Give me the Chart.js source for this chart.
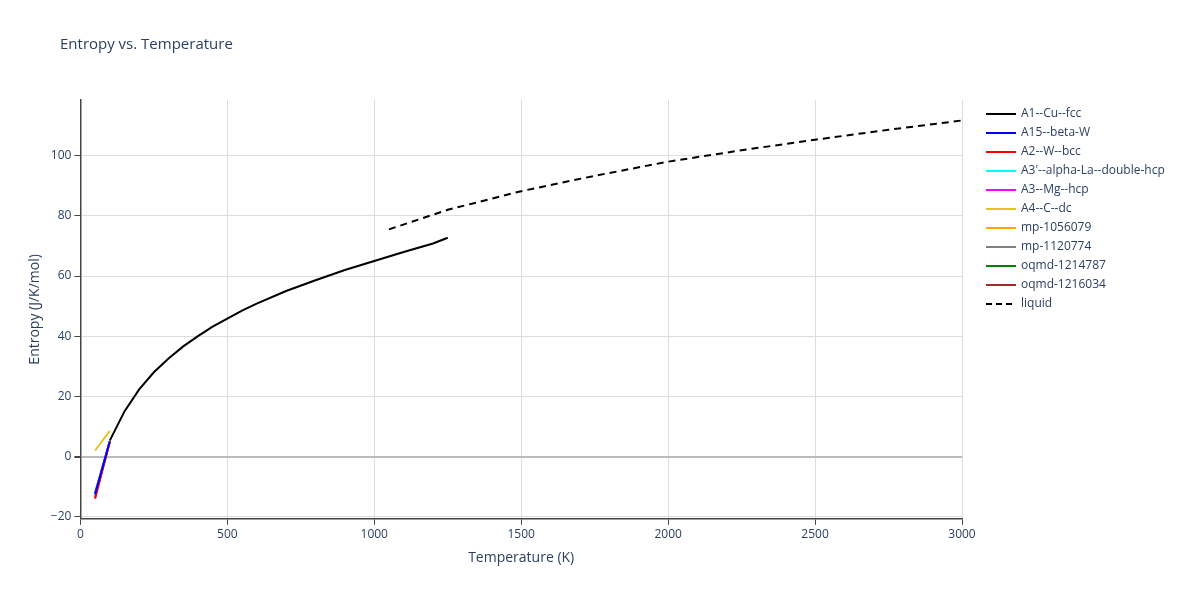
<!DOCTYPE html>
<html><head><meta charset="utf-8">
<script src="https://cdn.jsdelivr.net/npm/chart.js@4.4.0/dist/chart.umd.min.js"></script>
<style>body{margin:0;background:#fff}#wrap{width:1200px;height:600px;position:relative}</style>
</head><body><div id="wrap"><canvas id="c"></canvas></div>
<script>
// Phase data: [temperature K, entropy J/K/mol]
const fccT = [100, 150, 200, 250, 300, 350, 400, 450, 500, 550, 600, 700, 800, 900, 1000, 1100, 1200, 1250];
const fccS = [5.3, 15, 22.3, 28, 32.6, 36.6, 40, 43.2, 45.8, 48.5, 50.8, 55, 58.6, 62, 65, 68, 70.8, 72.7];
const lowT = [50, 100];
const a15S = [-12.5, 5];
const a2S = [-14, 5];
const a3pS = [-12.8, 5];
const a3S = [-13, 5];
const a4S = [2, 8.5];
const mp1056079S = [-13.2, 5];
const mp1120774S = [-12, 5];
const oq1214787S = [-13.5, 5];
const oq1216034S = [-12.7, 5];
const liqT = [1050, 1250, 1500, 1750, 2000, 2250, 2500, 2750, 3000];
const liqS = [75.5, 82, 88.2, 93.3, 98, 101.8, 105.3, 108.6, 111.7];

const pts = (xs, ys) => xs.map((x, i) => ({x: x, y: ys[i]}));
const ds = (label, xs, ys, color, dash) => ({
  label: label, data: pts(xs, ys), borderColor: color, backgroundColor: color,
  borderWidth: 2, pointRadius: 0, borderDash: dash || [], tension: 0
});

const FONT = '"Open Sans", "Noto Sans", sans-serif';
Chart.defaults.font.family = FONT;
Chart.defaults.color = '#2a3f5f';

// title + legend drawn at fixed spots, like the plotly layout
const deco = {
  id: 'deco',
  afterDraw(chart) {
    const g = chart.ctx;
    g.save();
    g.fillStyle = '#2a3f5f';
    g.textBaseline = 'middle';
    g.font = '15px ' + FONT;
    g.fillText('Entropy vs. Temperature', 60, 45);
    g.font = '12px ' + FONT;
    chart.data.datasets.forEach((d, i) => {
      const y = 114 + i * 19;
      g.strokeStyle = d.borderColor;
      g.lineWidth = 2;
      g.setLineDash(d.borderDash.length ? [6, 4] : []);
      g.beginPath(); g.moveTo(986, y); g.lineTo(1016, y); g.stroke();
      g.fillText(d.label, 1021, y);
    });
    g.restore();
  }
};

new Chart(document.getElementById('c'), {
  type: 'line',
  data: {
    datasets: [
      ds('A1--Cu--fcc', fccT, fccS, '#000000'),
      ds('A15--beta-W', lowT, a15S, '#0000ff'),
      ds('A2--W--bcc', lowT, a2S, '#ff0000'),
      ds("A3'--alpha-La--double-hcp", lowT, a3pS, '#00ffff'),
      ds('A3--Mg--hcp', lowT, a3S, '#ff00ff'),
      ds('A4--C--dc', lowT, a4S, '#e6c229'),
      ds('mp-1056079', lowT, mp1056079S, '#ffa500'),
      ds('mp-1120774', lowT, mp1120774S, '#808080'),
      ds('oqmd-1214787', lowT, oq1214787S, '#008000'),
      ds('oqmd-1216034', lowT, oq1216034S, '#a52a2a'),
      ds('liquid', liqT, liqS, '#000000', [7, 5])
    ]
  },
  plugins: [deco],
  options: {
    responsive: true, maintainAspectRatio: false, animation: false,
    layout: {padding: {left: 23, right: 238, top: 100, bottom: 30}},
    plugins: {legend: {display: false}, title: {display: false}, tooltip: {enabled: false}},
    scales: {
      x: {type: 'linear', min: 0, max: 3000,
        title: {display: true, text: 'Temperature (K)', font: {size: 14}},
        ticks: {stepSize: 500, font: {size: 12}, callback: v => String(v)},
        grid: {color: '#dddddd', tickColor: '#444', tickLength: 6},
        border: {color: '#444', width: 1.5}},
      y: {min: -20.7, max: 118.5,
        title: {display: true, text: 'Entropy (J/K/mol)', font: {size: 14}},
        ticks: {font: {size: 12}, callback: v => v < 0 ? '\u2212' + (-v) : String(v)},
        afterBuildTicks: a => { a.ticks = [-20, 0, 20, 40, 60, 80, 100].map(v => ({value: v})); },
        grid: {color: c => c.tick && c.tick.value === 0 ? '#bbbbbb' : '#dddddd',
          lineWidth: c => c.tick && c.tick.value === 0 ? 2 : 1, tickColor: '#444', tickLength: 6},
        border: {color: '#444', width: 1.5}}
    }
  }
});
</script></body></html>
